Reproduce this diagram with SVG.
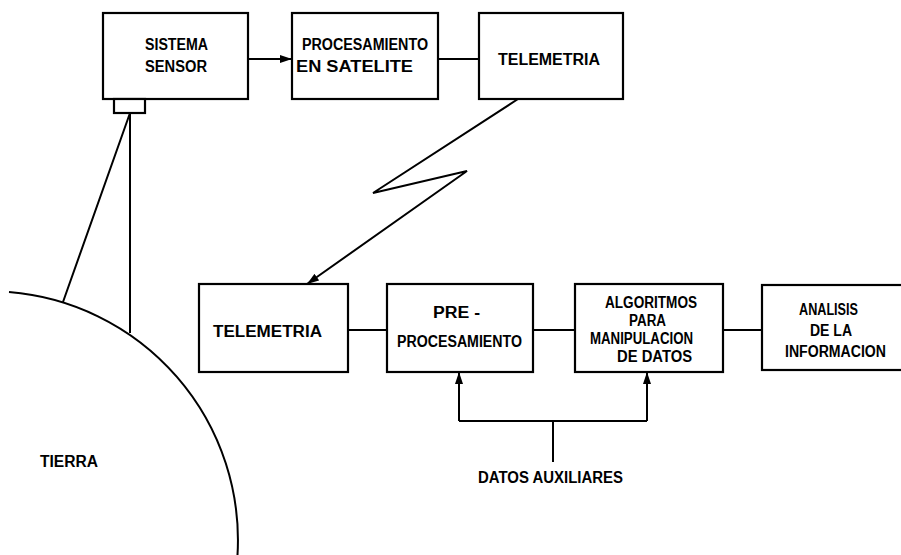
<svg xmlns="http://www.w3.org/2000/svg" width="901" height="555" viewBox="0 0 901 555">
  <style>
    .box { fill: #fff; stroke: #000; stroke-width: 2.2; }
    .ln { fill: none; stroke: #000; stroke-width: 2; stroke-linejoin: miter; }
    .lbl { font-family: "Liberation Sans", Arial, sans-serif; font-weight: bold; font-size: 16px; fill: #000; }
  </style>
  <defs>
    <marker id="arrow" viewBox="0 0 12 8" refX="12" refY="4" markerWidth="12" markerHeight="8" markerUnits="userSpaceOnUse" orient="auto">
      <path d="M0,0 L12,4 L0,8 Z" fill="#000"/>
    </marker>
  </defs>
  <rect width="901" height="555" fill="#fff"/>

  <!-- Earth and sensor field of view -->
  <g id="tierra">
    <path class="ln" d="M9,292 A249,249 0 0 1 237.5,555"/>
    <text class="lbl" x="40" y="467" textLength="58" lengthAdjust="spacingAndGlyphs">TIERRA</text>
  </g>

  <!-- Connectors -->
  <g id="connectors">
    <path class="ln" d="M63,302 L130,113 L130,333"/>
    <path class="ln" d="M248,59 L292,59" marker-end="url(#arrow)"/>
    <path class="ln" d="M438,59 L479,59"/>
    <path class="ln" d="M518,99 L373,193 L467,171 L307,284" marker-end="url(#arrow)"/>
    <path class="ln" d="M348,330 L387,330"/>
    <path class="ln" d="M533,330 L575,330"/>
    <path class="ln" d="M723,330 L762,330"/>
    <path class="ln" d="M553,462 L553,421"/>
    <path class="ln" d="M459,421 L647,421"/>
    <path class="ln" d="M459,421 L459,372" marker-end="url(#arrow)"/>
    <path class="ln" d="M647,421 L647,372" marker-end="url(#arrow)"/>
  </g>

  <g id="sistema-sensor">
    <rect class="box" x="103" y="13" width="145" height="86"/>
    <rect class="box" x="114" y="99" width="31" height="14"/>
    <text class="lbl" x="145" y="50" textLength="63" lengthAdjust="spacingAndGlyphs">SISTEMA</text>
    <text class="lbl" x="145" y="72" textLength="62" lengthAdjust="spacingAndGlyphs">SENSOR</text>
  </g>

  <g id="procesamiento-satelite">
    <rect class="box" x="292" y="13" width="146" height="86"/>
    <text class="lbl" x="302" y="50" textLength="126" lengthAdjust="spacingAndGlyphs">PROCESAMIENTO</text>
    <text class="lbl" x="296" y="72" textLength="117" lengthAdjust="spacingAndGlyphs">EN SATELITE</text>
  </g>

  <g id="telemetria-satelite">
    <rect class="box" x="479" y="13" width="144" height="86"/>
    <text class="lbl" x="498" y="65" textLength="102" lengthAdjust="spacingAndGlyphs">TELEMETRIA</text>
  </g>

  <g id="telemetria-tierra">
    <rect class="box" x="199" y="284" width="149" height="88"/>
    <text class="lbl" x="213" y="337" textLength="109" lengthAdjust="spacingAndGlyphs">TELEMETRIA</text>
  </g>

  <g id="preprocesamiento">
    <rect class="box" x="387" y="284" width="146" height="88"/>
    <text class="lbl" x="433" y="318" textLength="47" lengthAdjust="spacingAndGlyphs">PRE -</text>
    <text class="lbl" x="397" y="347" textLength="125" lengthAdjust="spacingAndGlyphs">PROCESAMIENTO</text>
  </g>

  <g id="algoritmos">
    <rect class="box" x="575" y="284" width="148" height="88"/>
    <text class="lbl" x="605" y="308" textLength="92" lengthAdjust="spacingAndGlyphs">ALGORITMOS</text>
    <text class="lbl" x="629" y="326" textLength="37" lengthAdjust="spacingAndGlyphs">PARA</text>
    <text class="lbl" x="590" y="344" textLength="103" lengthAdjust="spacingAndGlyphs">MANIPULACION</text>
    <text class="lbl" x="617" y="362" textLength="75" lengthAdjust="spacingAndGlyphs">DE DATOS</text>
  </g>

  <g id="analisis">
    <rect class="box" x="762" y="285" width="150" height="85"/>
    <text class="lbl" x="799" y="315" textLength="59" lengthAdjust="spacingAndGlyphs">ANALISIS</text>
    <text class="lbl" x="810" y="336" textLength="42" lengthAdjust="spacingAndGlyphs">DE LA</text>
    <text class="lbl" x="785" y="357" textLength="101" lengthAdjust="spacingAndGlyphs">INFORMACION</text>
  </g>

  <g id="datos-auxiliares">
    <text class="lbl" x="478" y="483" textLength="145" lengthAdjust="spacingAndGlyphs">DATOS AUXILIARES</text>
  </g>
</svg>
